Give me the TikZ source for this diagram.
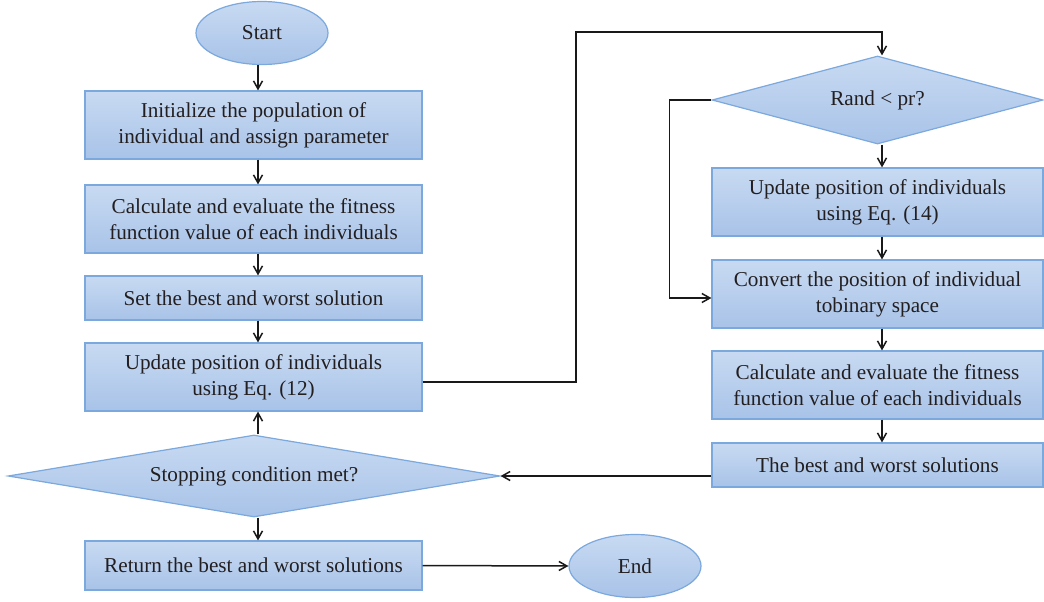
\documentclass[tikz,border=0pt]{standalone}
\usepackage{fontspec}
\setmainfont{Liberation Serif}
\usetikzlibrary{arrows.meta, positioning, calc, shapes.geometric}
\definecolor{boxtop}{HTML}{C8DAF2}
\definecolor{boxbot}{HTML}{A8C3E8}
\definecolor{boxedge}{HTML}{7BA8DD}
\definecolor{ink}{HTML}{231F20}
\tikzset{
    flowbox/.style={rectangle, draw=boxedge, line width=0.6pt, top color=boxtop, bottom color=boxbot, inner sep=0pt, align=center, text=ink},
    leftbox/.style={flowbox, minimum width=168.5pt},
    rightbox/.style={flowbox, minimum width=165.5pt},
    terminal/.style={flowbox, ellipse, minimum width=66pt, minimum height=31.5pt},
    decision/.style={flowbox, diamond, aspect=5},
    link/.style={-{Straight Barb[length=4pt,width=4.5pt]}, line width=0.75pt, draw=black!90},
    every node/.style={font=\fontsize{10.6}{13}\selectfont}
}
\begin{document}
\begin{tikzpicture}[x=0.5pt, y=-0.5pt]
    \useasboundingbox (0,0) rectangle (1044,601);
    \coordinate (lx) at (258,0);
    \coordinate (rx) at (882,0);
    % Main loop
    \node[terminal] (start) at (262,33) {Start};
    \node[leftbox, minimum height=34pt] (init) at (253.5,125) {Initialize the population of\\individual and assign parameter};
    \node[leftbox, minimum height=34pt] (calc) at (253.5,219) {Calculate and evaluate the fitness\\function value of each individuals};
    \node[leftbox, minimum height=22pt] (best) at (253.5,298) {Set the best and worst solution};
    \node[leftbox, minimum height=34pt] (upd) at (253.5,377) {Update position of individuals\\using Eq. (12)};
    \node[decision, minimum width=246pt, minimum height=41pt] (cond) at (254,476) {Stopping condition met?};
    \node[leftbox, minimum height=24.5pt] (ret) at (253.5,565.5) {Return the best and worst solutions};
    \node[terminal] (finish) at (635,566) {End};
    % Binary update
    \node[decision, minimum width=165.5pt, minimum height=44pt] (rand) at (877.5,100) {Rand < pr?};
    \node[rightbox, minimum height=34pt] (upda) at (877.5,202) {Update position of individuals\\using Eq. (14)};
    \node[rightbox, minimum height=34pt] (conv) at (877.5,294) {Convert the position of individual\\tobinary space};
    \node[rightbox, minimum height=34pt] (calcb) at (877.5,385) {Calculate and evaluate the fitness\\function value of each individuals};
    \node[rightbox, minimum height=22pt] (bestb) at (877.5,465) {The best and worst solutions};
    % Connectors
    \draw[link] (start.south -| lx) -- (init.north -| lx);
    \draw[link] (init.south -| lx) -- (calc.north -| lx);
    \draw[link] (calc.south -| lx) -- (best.north -| lx);
    \draw[link] (best.south -| lx) -- (upd.north -| lx);
    \draw[link] (cond.north -| lx) -- (upd.south -| lx);
    \draw[link] (cond.south -| lx) -- (ret.north -| lx);
    \draw[link] (ret.east) -- (finish.west);
    \draw[link] ($(upd.east)+(0,5)$) -| (576,32) -| (rand.north -| rx);
    \draw[link] (rand.south -| rx) -- (upda.north -| rx);
    \draw[link] (upda.south -| rx) -- (conv.north -| rx);
    \draw[link] (conv.south -| rx) -- (calcb.north -| rx);
    \draw[link] (calcb.south -| rx) -- (bestb.north -| rx);
    \draw[link] (rand.west) -- ++(-42,0) |- ($(conv.west)+(0,4)$);
    \draw[link] (cond.east -| bestb.west) -- (cond.east);
\end{tikzpicture}
\end{document}
